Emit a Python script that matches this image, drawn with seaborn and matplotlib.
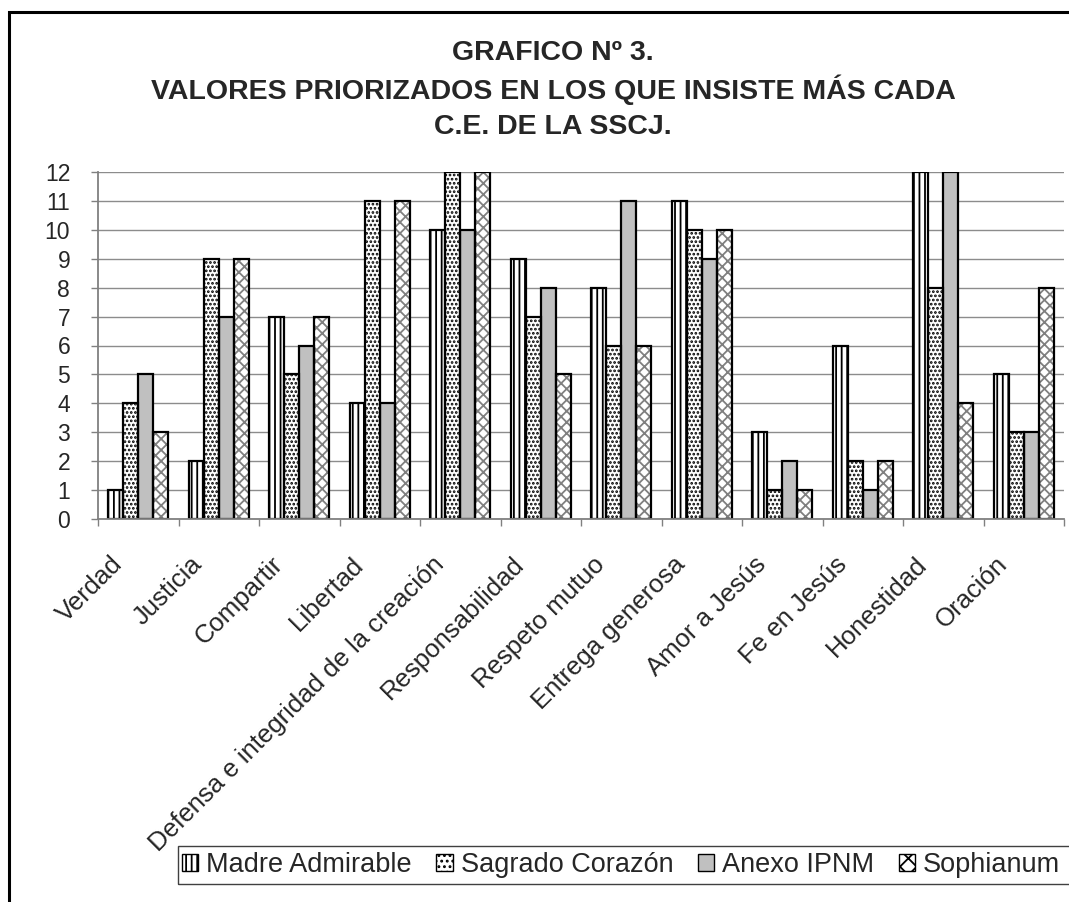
import matplotlib
matplotlib.use("Agg")
import matplotlib.pyplot as plt
import matplotlib.transforms as mtransforms
from matplotlib.patches import Patch, Rectangle
import numpy as np
import pandas as pd
import seaborn as sns

# ---------------- data ----------------
categories = ["Verdad", "Justicia", "Compartir", "Libertad",
              "Defensa e integridad de la creación", "Responsabilidad",
              "Respeto mutuo", "Entrega generosa", "Amor a Jesús",
              "Fe en Jesús", "Honestidad", "Oración"]
series_names = ["Madre Admirable", "Sagrado Corazón", "Anexo IPNM", "Sophianum"]
madre = [1, 2, 7, 4, 10, 9, 8, 11, 3, 6, 12, 5]
sagrado = [4, 9, 5, 11, 12, 7, 6, 10, 1, 2, 8, 3]
anexo = [5, 7, 6, 4, 10, 8, 11, 9, 2, 1, 12, 3]
sophianum = [3, 9, 7, 11, 12, 5, 6, 10, 1, 2, 4, 8]
y_ticks = list(range(0, 13))
title_lines = ["GRAFICO Nº 3.",
               "VALORES PRIORIZADOS EN LOS QUE INSISTE MÁS CADA",
               "C.E. DE LA SSCJ."]

# ---------------- style ----------------
sns.set_style("white")
plt.rcParams["font.family"] = ["Liberation Sans", "DejaVu Sans"]
plt.rcParams["hatch.linewidth"] = 1.3

W, H, DPI = 1069, 902, 100
fig = plt.figure(figsize=(W / DPI, H / DPI), dpi=DPI)
fig.patch.set_facecolor("white")

left, right, top, bottom = 98, 1064, 172, 519
ax = fig.add_axes([left / W, 1 - bottom / H, (right - left) / W, (bottom - top) / H])

df = pd.DataFrame({
    "Valor": categories * 4,
    "Centro": sum([[s] * len(categories) for s in series_names], []),
    "Puntaje": madre + sagrado + anexo + sophianum,
})

fills = ["white", "white", "#C0C0C0", "white"]
hatches = ["|||", "....", "", "xxx"]
hatch_colors = ["black", "black", "#C0C0C0", "#808080"]

sns.barplot(data=df, x="Valor", y="Puntaje", hue="Centro", order=categories,
            hue_order=series_names, palette=fills, width=0.75, gap=0,
            saturation=1, errorbar=None, linewidth=0, legend=False, ax=ax)
for cont, h, hc in zip(ax.containers, hatches, hatch_colors):
    for p in cont:
        p.set_hatch(h)
        p.set_edgecolor(hc)
        p.set_linewidth(0)

sns.barplot(data=df, x="Valor", y="Puntaje", hue="Centro", order=categories,
            hue_order=series_names, palette=["black"] * 4, width=0.75, gap=0,
            saturation=1, errorbar=None, fill=False, linewidth=1.6,
            legend=False, ax=ax)

# ---------------- axes ----------------
ax.set_ylim(0, 12)
ax.set_xlim(-0.5, len(categories) - 0.5)
ax.set_yticks(y_ticks)
ax.set_yticklabels([str(v) for v in y_ticks], fontsize=16.5)
ax.set_xticks(np.arange(-0.5, len(categories), 1))
ax.set_xticklabels([""] * (len(categories) + 1))
ax.set_xticks(np.arange(len(categories)), labels=categories, minor=True)
ax.set_xlabel("")
ax.set_ylabel("")

ax.yaxis.grid(True, color="#8c8c8c", linewidth=1.0)
ax.xaxis.grid(False)
ax.set_axisbelow(True)
for s in ["top", "right"]:
    ax.spines[s].set_visible(False)
for s in ["left", "bottom"]:
    ax.spines[s].set_color("#808080")
    ax.spines[s].set_linewidth(1.3)

ax.tick_params(axis="y", which="major", length=5, width=1, color="#808080",
               direction="out", pad=15, left=True)
ax.tick_params(axis="x", which="major", length=5, width=1, color="#808080",
               direction="out", bottom=True)
ax.tick_params(axis="x", which="minor", length=0, pad=30, labelsize=18.5)

offset = mtransforms.ScaledTranslation(-20 / DPI, 0, fig.dpi_scale_trans)
for lab in ax.get_xticklabels(minor=True):
    lab.set_rotation(45)
    lab.set_ha("right")
    lab.set_va("center")
    lab.set_rotation_mode("anchor")
    lab.set_transform(lab.get_transform() + offset)

# ---------------- title ----------------
for i, line in enumerate(title_lines):
    fig.text(553 / W, 1 - (53 + 37 * i) / H, line, ha="center", va="center",
             fontsize=20.5, fontweight="bold")

# ---------------- legend ----------------
handles = [Patch(facecolor=f, hatch=h, edgecolor="black", linewidth=1)
           for f, h in zip(fills, ["|||", "...", "", "xx"])]
leg = fig.legend(handles, series_names, loc="center left",
                 bbox_to_anchor=(182 / W, 1 - 865 / H), ncol=4, frameon=False,
                 fontsize=19.5, handlelength=0.6, handleheight=0.6,
                 handletextpad=0.3, columnspacing=0.9, borderpad=0.0,
                 borderaxespad=0)
# legend box (runs past the right edge, as in the original chart)
fig.patches.append(Rectangle((178 / W, 1 - 884 / H), 1.0, 38 / H,
                             transform=fig.transFigure, fill=False,
                             edgecolor="#404040", linewidth=1.0, clip_on=False))

# ---------------- outer frame ----------------
fig.patches.append(Rectangle((9 / W, -0.2), 1.5, 1.2 - 12 / H,
                             transform=fig.transFigure, fill=False,
                             edgecolor="black", linewidth=2.2, clip_on=False))

fig.savefig("out.png", dpi=DPI)
